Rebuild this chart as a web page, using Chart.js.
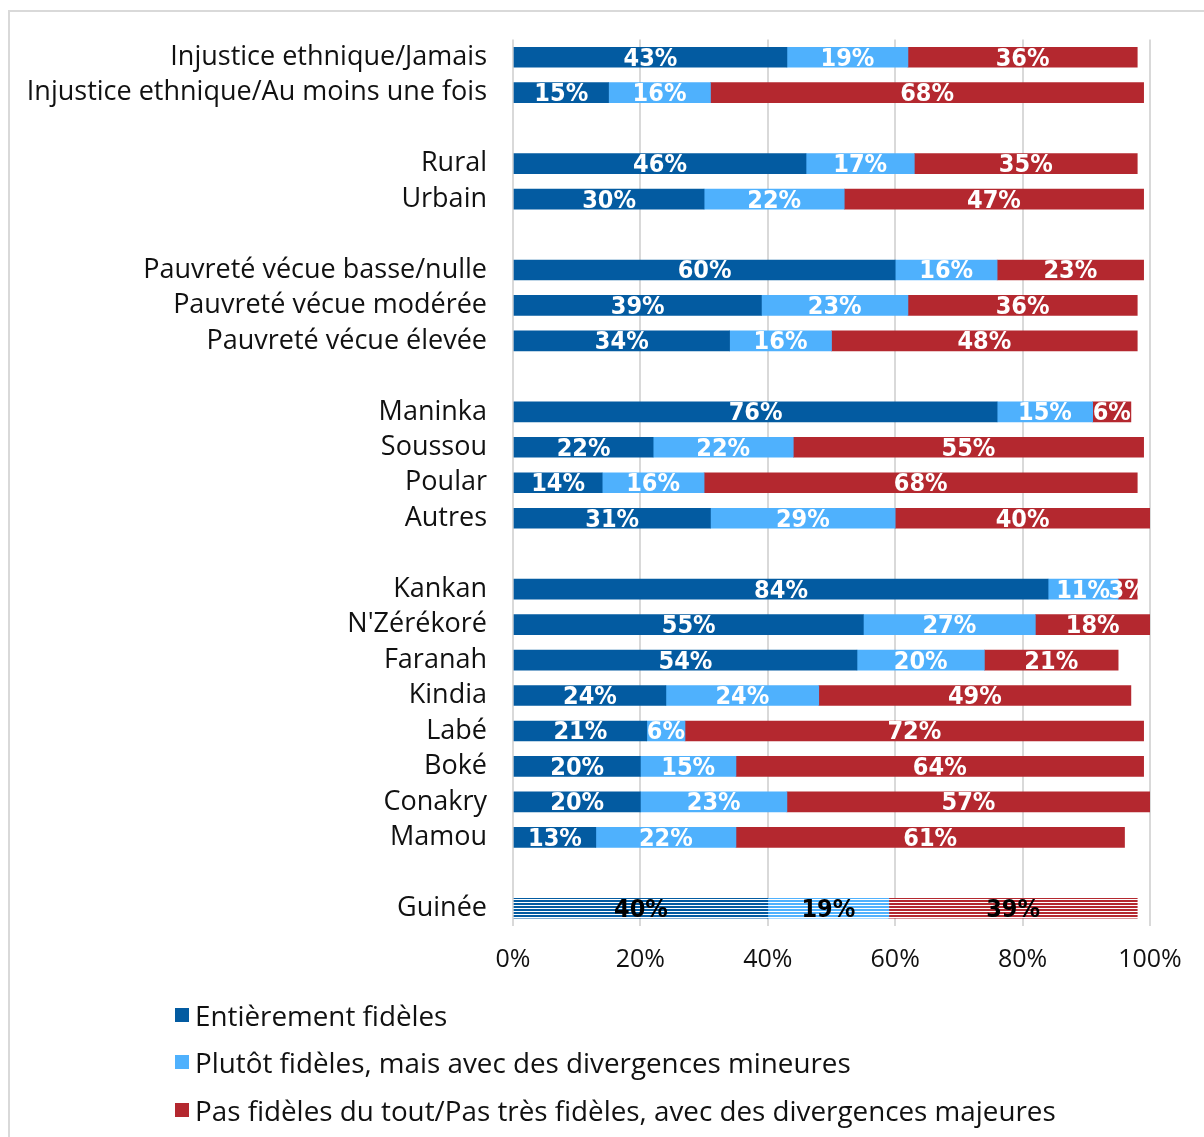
<!DOCTYPE html>
<html lang="fr">
<head>
<meta charset="utf-8">
<title>Fidélité perçue</title>
<script src="https://cdn.jsdelivr.net/npm/chart.js@4.4.1/dist/chart.umd.min.js"></script>
<style>
    html, body {
        margin: 0;
        padding: 0;
        background: #fff;
        width: 1204px;
        height: 1137px;
        overflow: hidden;
        font-family: "Open Sans", sans-serif;
    }
    .frame {
        position: absolute;
        left: 8px;
        top: 10px;
        width: 1300px;
        height: 1300px;
        border-top: 2px solid #d9d9d9;
        border-left: 2px solid #d9d9d9;
    }
    .chart-box {
        position: absolute;
        left: 0;
        top: 0;
        width: 1204px;
        height: 1000px;
    }
    .legend {
        position: absolute;
        left: 175px;
        top: 991px;
    }
    .legend-item {
        display: flex;
        align-items: center;
        height: 47.5px;
        font-size: 27.8px;
        color: #111;
        white-space: nowrap;
    }
    .legend-item span.box {
        display: inline-block;
        width: 14px;
        height: 14px;
        margin-right: 6px;
    }
</style>
</head>
<body>
<div class="frame"></div>
<div class="chart-box"><canvas id="fidChart" width="1204" height="1000"></canvas></div>
<div class="legend" id="legend"></div>

<script>
// Catégories (les chaînes vides servent d'espacement entre les groupes)
const categories = [
    "Injustice ethnique/Jamais", "Injustice ethnique/Au moins une fois", "",
    "Rural", "Urbain", "",
    "Pauvreté vécue basse/nulle", "Pauvreté vécue modérée", "Pauvreté vécue élevée", "",
    "Maninka", "Soussou", "Poular", "Autres", "",
    "Kankan", "N'Zérékoré", "Faranah", "Kindia", "Labé", "Boké", "Conakry", "Mamou", "",
    "Guinée"
];

const seriesNames = [
    "Entièrement fidèles",
    "Plutôt fidèles, mais avec des divergences mineures",
    "Pas fidèles du tout/Pas très fidèles, avec des divergences majeures"
];

const entierement = [43, 15, null, 46, 30, null, 60, 39, 34, null, 76, 22, 14, 31, null, 84, 55, 54, 24, 21, 20, 20, 13, null, 40];
const plutot      = [19, 16, null, 17, 22, null, 16, 23, 16, null, 15, 22, 16, 29, null, 11, 27, 20, 24, 6, 15, 23, 22, null, 19];
const pasFideles  = [36, 68, null, 35, 47, null, 23, 36, 48, null, 6, 55, 68, 40, null, 3, 18, 21, 49, 72, 64, 57, 61, null, 39];

const xTicks = [0, 20, 40, 60, 80, 100];

const colors = ["#035ba1", "#4fb1fd", "#b4282f"];

document.addEventListener("DOMContentLoaded", () => {
    const canvas = document.getElementById("fidChart");
    const totalIndex = categories.length - 1; // la ligne "Guinée"

    // Motif rayé horizontal pour la barre nationale
    function stripes(color) {
        const c = document.createElement("canvas");
        c.width = 4;
        c.height = 3;
        const g = c.getContext("2d");
        g.fillStyle = "#fff";
        g.fillRect(0, 0, 4, 3);
        g.fillStyle = color;
        g.fillRect(0, 0, 4, 2);
        return canvas.getContext("2d").createPattern(c, "repeat");
    }

    const seriesData = [entierement, plutot, pasFideles];
    const datasets = seriesData.map((values, i) => {
        const pattern = stripes(colors[i]);
        return {
            label: seriesNames[i],
            data: values,
            backgroundColor: (ctx) => ctx.dataIndex === totalIndex ? pattern : colors[i],
            borderWidth: 0,
            barThickness: 20
        };
    });

    // Étiquettes de valeur au centre de chaque segment
    const valueLabels = {
        id: "valueLabels",
        afterDatasetsDraw(chart) {
            const ctx = chart.ctx;
            ctx.save();
            ctx.font = "bold 25px 'DejaVu Sans Condensed', 'DejaVu Sans', sans-serif";
            ctx.textAlign = "center";
            ctx.textBaseline = "middle";
            chart.data.datasets.forEach((ds, di) => {
                const meta = chart.getDatasetMeta(di);
                meta.data.forEach((bar, i) => {
                    const v = ds.data[i];
                    if (v == null) return;
                    ctx.fillStyle = i === totalIndex ? "#000" : "#fff";
                    ctx.fillText(v + "%", (bar.x + bar.base) / 2, bar.y + 2);
                });
            });
            ctx.restore();
        }
    };

    new Chart(canvas, {
        type: "bar",
        data: { labels: categories, datasets: datasets },
        options: {
            indexAxis: "y",
            responsive: false,
            animation: false,
            layout: { padding: { top: 37, right: 54, left: 0, bottom: 0 } },
            plugins: {
                legend: { display: false },
                tooltip: { enabled: false }
            },
            scales: {
                x: {
                    stacked: true,
                    min: 0,
                    max: 100,
                    afterBuildTicks: (scale) => {
                        scale.ticks = xTicks.map(v => ({ value: v }));
                    },
                    afterFit: (scale) => { scale.height = 74; },
                    grid: { color: "#d9d9d9", lineWidth: 2, drawTicks: false },
                    border: { display: false },
                    ticks: {
                        padding: 19,
                        color: "#111",
                        font: { family: "'Open Sans', sans-serif", size: 25 },
                        callback: (v) => v + "%"
                    }
                },
                y: {
                    stacked: true,
                    afterFit: (scale) => { scale.width = 513; },
                    grid: { display: false, drawTicks: false },
                    border: { display: false },
                    ticks: {
                        padding: 26,
                        autoSkip: false,
                        color: "#111",
                        font: { family: "'Open Sans', sans-serif", size: 27, lineHeight: 1 }
                    }
                }
            }
        },
        plugins: [valueLabels]
    });

    // Légende verticale sous le graphique
    const legend = document.getElementById("legend");
    seriesNames.forEach((name, i) => {
        const item = document.createElement("div");
        item.className = "legend-item";
        item.innerHTML = `<span class="box" style="background:${colors[i]}"></span>${name}`;
        legend.appendChild(item);
    });
});
</script>
</body>
</html>
